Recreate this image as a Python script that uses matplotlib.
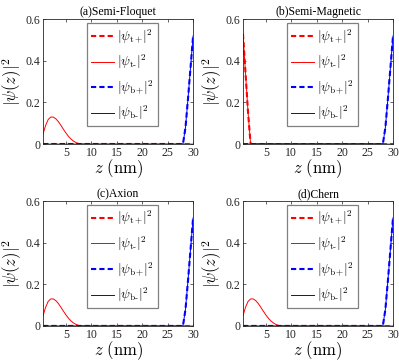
import matplotlib
matplotlib.use("Agg")
import matplotlib.pyplot as plt

plt.rcParams['font.family'] = ['Liberation Serif', 'DejaVu Serif']
plt.rcParams['mathtext.fontset'] = 'cm'

# sample positions (nm)
z = [0.5, 1, 1.5, 2, 2.5, 3, 3.5, 4, 4.5, 5, 5.5, 6, 6.5, 7, 7.5, 8,
     10, 15, 20, 25, 28, 28.5, 29, 29.5, 30]

# top-surface hump (Floquet-like), top-surface sharp decay (magnetic), bottom peak
top_hump = [0.05, 0.09, 0.118, 0.13, 0.13, 0.122, 0.108, 0.09, 0.071, 0.053,
            0.037, 0.024, 0.014, 0.007, 0.003, 0.001,
            0, 0, 0, 0, 0, 0, 0, 0, 0]
top_sharp = [0.53, 0.34, 0.15, 0.0, 0, 0, 0, 0, 0, 0, 0, 0, 0, 0, 0, 0,
             0, 0, 0, 0, 0, 0, 0, 0, 0]
bot_peak = [0, 0, 0, 0, 0, 0, 0, 0, 0, 0, 0, 0, 0, 0, 0, 0,
            0, 0, 0, 0, 0, 0.08, 0.22, 0.37, 0.52]
zeros = [0] * len(z)

titles = ['(a)Semi-Floquet', '(b)Semi-Magnetic', '(c)Axion', '(d)Chern']
# (t+, t-, b+, b-) for each panel
series = [
    (zeros, top_hump, bot_peak, bot_peak),
    (top_sharp, top_sharp, bot_peak, bot_peak),
    (zeros, top_hump, bot_peak, bot_peak),
    (zeros, top_hump, bot_peak, bot_peak),
]
labels = [r'$|\psi_{\mathrm{t+}}\!|^2$', r'$|\psi_{\mathrm{t\text{-}}}|^2$',
          r'$|\psi_{\mathrm{b+}}\!|^2$', r'$|\psi_{\mathrm{b\text{-}}}|^2$']
xticks = [5, 10, 15, 20, 25, 30]
yticks = [0, 0.2, 0.4, 0.6]

fig = plt.figure(figsize=(3.99, 3.63), dpi=100)
positions = [[0.108, 0.603, 0.376, 0.344], [0.609, 0.603, 0.376, 0.344],
             [0.108, 0.102, 0.376, 0.344], [0.609, 0.102, 0.376, 0.344]]

for pos, title, (tp, tm, bp, bm) in zip(positions, titles, series):
    ax = fig.add_axes(pos)
    ax.plot(z, tp, 'r--', lw=1.5, dashes=(2.5, 1.5), label=labels[0])
    ax.plot(z, tm, 'r-', lw=0.7, label=labels[1])
    ax.plot(z, bp, 'b--', lw=1.5, dashes=(2.5, 1.5), label=labels[2])
    ax.plot(z, bm, 'b-', lw=0.7, label=labels[3])
    ax.set_xlim(0.5, 30)
    ax.set_ylim(0, 0.6)
    ax.set_xticks(xticks)
    ax.set_yticks(yticks)
    ax.set_yticklabels(['0', '0.2', '0.4', '0.6'])
    ax.tick_params(direction='in', top=True, right=True, length=2.5,
                   width=0.5, labelsize=8.5, pad=2, colors='0.15')
    for s in ax.spines.values():
        s.set_linewidth(0.6)
        s.set_color('0.15')
    ax.set_title(title, fontsize=8.5, pad=3)
    ax.set_xlabel(r'$z\ (\mathrm{nm})$', fontsize=12, labelpad=-1)
    ax.set_ylabel(r'$|\psi(z)|^2$', fontsize=12, labelpad=1)
    leg = ax.legend(loc='upper left', bbox_to_anchor=(0.293, 0.968),
                    borderaxespad=0, fontsize=9.5, handlelength=1.75,
                    labelspacing=0.55, fancybox=False, framealpha=1,
                    edgecolor='0.5', borderpad=0.3, handletextpad=0.25)
    leg.get_frame().set_linewidth(0.9)

fig.savefig('out.png', dpi=100)
